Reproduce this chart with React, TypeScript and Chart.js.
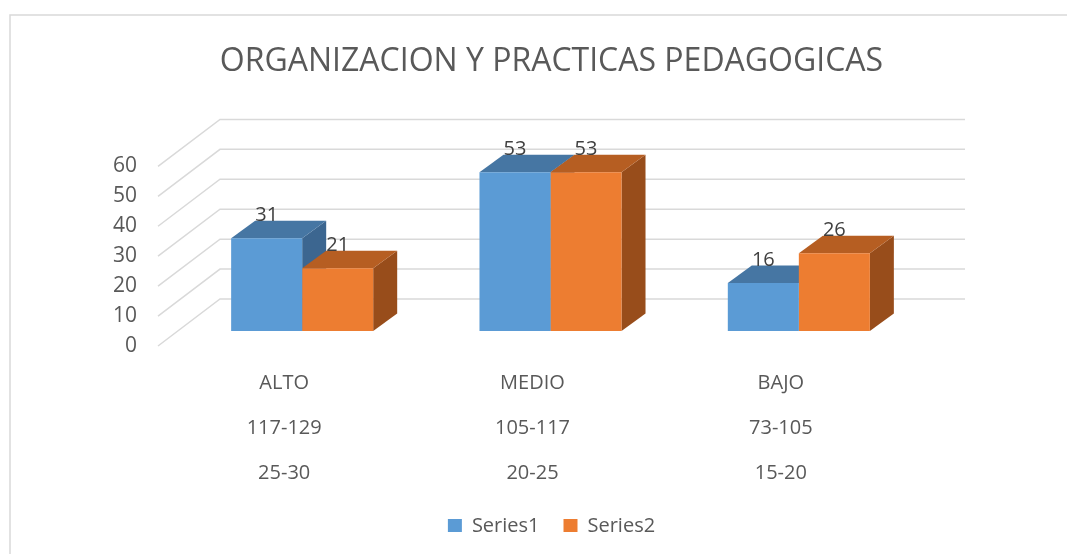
import React, { useEffect, useRef } from "react";
import { Chart, registerables } from "chart.js";

Chart.register(...registerables);

const TITLE = "ORGANIZACION Y PRACTICAS PEDAGOGICAS";
const categories: string[][] = [
  ["ALTO", "117-129", "25-30"],
  ["MEDIO", "105-117", "20-25"],
  ["BAJO", "73-105", "15-20"],
];
const seriesNames = ["Series1", "Series2"];
const series1 = [31, 53, 16];
const series2 = [21, 53, 26];
const yTicks = [0, 10, 20, 30, 40, 50, 60];

const FONT = "'Open Sans', 'Noto Sans', sans-serif";
const TEXT = "#595959";
const GRID = "#d9d9d9";
const FRONT = ["#5B9BD5", "#ED7D31"];
const TOP = ["#4676A3", "#B65E22"];
const SIDE = ["#3C6690", "#984D1B"];

// oblique projection offsets relative to bar front plane
const BAR_DX = 24, BAR_DY = -17.5;
const WALL_DX = 42, WALL_DY = -32;
const FLOOR_DX = -20, FLOOR_DY = 15;

const threeD = {
  id: "threeD",
  beforeDraw(chart: any) {
    const ctx = chart.ctx;
    ctx.save();
    ctx.strokeStyle = GRID;
    ctx.lineWidth = 1.5;
    ctx.beginPath();
    ctx.moveTo(10, 554);
    ctx.lineTo(10, 15);
    ctx.lineTo(1067, 15);
    ctx.stroke();
    ctx.restore();
  },
  beforeDatasetsDraw(chart: any) {
    const ctx = chart.ctx;
    const ys = chart.scales.y;
    const { left, right } = chart.chartArea;
    ctx.save();
    ctx.strokeStyle = GRID;
    ctx.lineWidth = 1.5;
    yTicks.forEach((v) => {
      const py = ys.getPixelForValue(v);
      ctx.beginPath();
      ctx.moveTo(left + FLOOR_DX, py + FLOOR_DY);
      ctx.lineTo(left + WALL_DX, py + WALL_DY);
      ctx.lineTo(right + WALL_DX, py + WALL_DY);
      ctx.stroke();
    });
    // side & top faces, drawn behind front faces
    const n = chart.data.labels.length;
    for (let i = 0; i < n; i++) {
      chart.data.datasets.forEach((_: any, d: number) => {
        const bar: any = chart.getDatasetMeta(d).data[i];
        if (!bar) return;
        const x0 = bar.x - bar.width / 2;
        const x1 = bar.x + bar.width / 2;
        const yt = bar.y;
        const yb = bar.base;
        // side
        ctx.fillStyle = SIDE[d];
        ctx.beginPath();
        ctx.moveTo(x1, yt);
        ctx.lineTo(x1 + BAR_DX, yt + BAR_DY);
        ctx.lineTo(x1 + BAR_DX, yb + BAR_DY);
        ctx.lineTo(x1, yb);
        ctx.closePath();
        ctx.fill();
        // top
        ctx.fillStyle = TOP[d];
        ctx.beginPath();
        ctx.moveTo(x0, yt);
        ctx.lineTo(x0 + BAR_DX, yt + BAR_DY);
        ctx.lineTo(x1 + BAR_DX, yt + BAR_DY);
        ctx.lineTo(x1, yt);
        ctx.closePath();
        ctx.fill();
      });
    }
    ctx.restore();
  },
  afterDatasetsDraw(chart: any) {
    const ctx = chart.ctx;
    ctx.save();
    ctx.fillStyle = "#404040";
    ctx.font = `20px ${FONT}`;
    ctx.textAlign = "center";
    ctx.textBaseline = "middle";
    chart.data.datasets.forEach((ds: any, d: number) => {
      chart.getDatasetMeta(d).data.forEach((bar: any, i: number) => {
        ctx.fillText(String(ds.data[i]), bar.x, bar.y - 23);
      });
    });
    ctx.restore();
  },
};

export default function App() {
  const ref = useRef<HTMLCanvasElement>(null);
  useEffect(() => {
    if (!ref.current) return;
    Chart.defaults.font.family = FONT;
    const chart = new Chart(ref.current, {
      type: "bar",
      data: {
        labels: categories,
        datasets: [
          { label: seriesNames[0], data: series1, backgroundColor: FRONT[0], categoryPercentage: 0.572, barPercentage: 1 },
          { label: seriesNames[1], data: series2, backgroundColor: FRONT[1], categoryPercentage: 0.572, barPercentage: 1 },
        ],
      },
      options: {
        responsive: false,
        animation: false,
        layout: { padding: { left: 36, right: 0, top: 0, bottom: 22 } },
        plugins: {
          title: {
            display: true,
            text: TITLE,
            color: TEXT,
            font: { size: 32, weight: "normal", family: FONT },
            padding: { top: 43, bottom: 70 },
          },
          legend: {
            position: "bottom",
            maxHeight: 40,
            labels: {
              color: TEXT,
              font: { size: 20, family: FONT },
              boxWidth: 14,
              boxHeight: 14,
              padding: 24,
            },
          },
          tooltip: { enabled: false },
        },
        scales: {
          x: {
            grid: { display: false, drawTicks: false },
            border: { display: false },
            ticks: {
              color: TEXT,
              font: { size: 20, family: FONT, lineHeight: 2.25 },
              padding: 30,
              labelOffset: -18,
              maxRotation: 0,
              autoSkip: false,
            },
            afterFit: (s: any) => { s.height = 161; },
          },
          y: {
            min: 0,
            max: 60,
            grid: { display: false, drawTicks: false },
            border: { display: false },
            ticks: {
              stepSize: 10,
              color: TEXT,
              font: { size: 21, family: FONT },
              padding: 41,
              labelOffset: 15,
            },
            afterFit: (s: any) => { s.width = 142; },
          },
          y2: {
            position: "right",
            grid: { display: false, drawTicks: false },
            border: { display: false },
            ticks: { display: false },
            afterFit: (s: any) => { s.width = 144; },
          },
        },
      },
      plugins: [threeD],
    } as any);
    return () => chart.destroy();
  }, []);
  return (
    <div style={{ position: "fixed", left: 0, top: 0, width: 1067, height: 554, background: "#fff" }}>
      <canvas ref={ref} width={1067} height={554} />
    </div>
  );
}
